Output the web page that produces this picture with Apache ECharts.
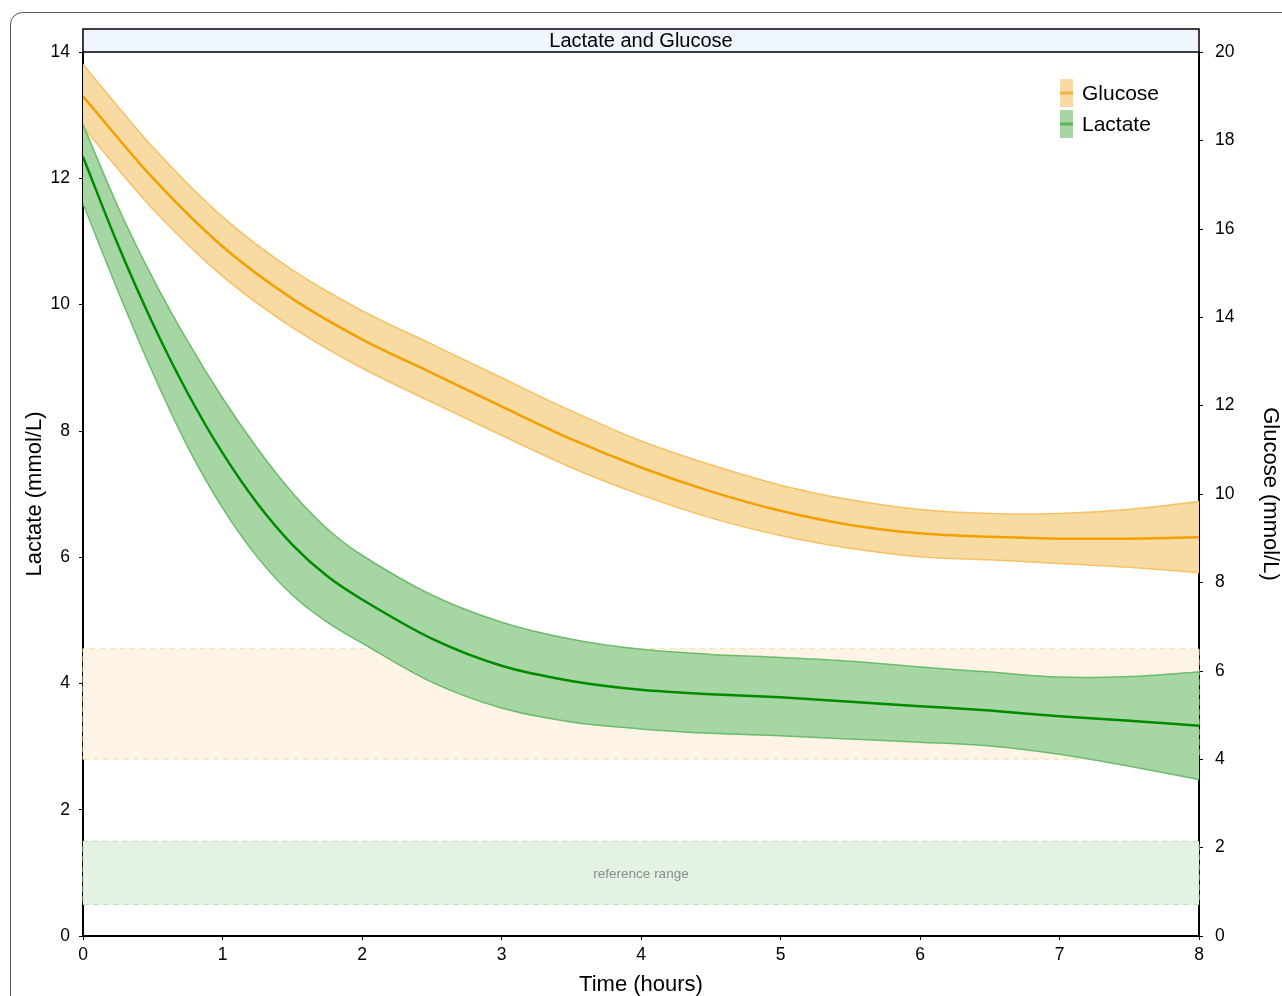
<!DOCTYPE html>
<html>
<head>
<meta charset="utf-8">
<script src="https://cdn.jsdelivr.net/npm/echarts@6/dist/echarts.min.js"></script>
<style>
html,body{margin:0;padding:0;background:#fff;overflow:hidden;}
#chart{width:1282px;height:996px;}
</style>
</head>
<body>
<div id="chart"></div>
<script>
// ---- data ----
var glucoseTime = [0,0.5,1,1.5,2,2.5,3,3.5,4,4.5,5,5.5,6,6.5,7,7.5,8];
var glucoseMean = [19.0,17.15,15.6,14.42,13.5,12.74,11.98,11.24,10.6,10.06,9.62,9.30,9.11,9.03,8.99,8.99,9.02];
var glucoseUpper = [19.72,17.85,16.27,15.07,14.15,13.39,12.63,11.88,11.2,10.66,10.20,9.87,9.65,9.56,9.56,9.65,9.83];
var glucoseLower = [18.3,16.45,14.93,13.77,12.85,12.08,11.33,10.6,9.98,9.46,9.06,8.77,8.58,8.51,8.43,8.34,8.22];

var lactateTime = [0,0.25,0.5,0.75,1,1.25,1.5,1.75,2,2.5,3,3.5,4,4.5,5,5.5,6,6.5,7,7.5,8];
var lactateMean = [12.34,10.95,9.70,8.60,7.65,6.85,6.2,5.7,5.33,4.71,4.28,4.04,3.90,3.83,3.78,3.71,3.64,3.57,3.48,3.41,3.33];
var lactateUpper = [12.85,11.55,10.42,9.42,8.52,7.72,7.02,6.45,6.03,5.4,4.97,4.70,4.54,4.46,4.41,4.35,4.26,4.18,4.10,4.11,4.18];
var lactateLower = [11.6,10.22,8.92,7.75,6.78,6.0,5.4,4.97,4.64,4.02,3.61,3.39,3.28,3.21,3.17,3.12,3.07,3.01,2.88,2.69,2.48];

var glucoseRef = [4.0, 6.5];   // mmol/L (right axis)
var lactateRef = [0.5, 1.5];   // mmol/L (left axis)
var xTicks = [0, 8, 1];
var lactateAxis = [0, 14, 2];
var glucoseAxis = [0, 20, 2];

var FONT = 'Liberation Sans, Arial, sans-serif';

// smooth cubic Hermite path segments through pixel points
function segments(pts) {
  var n = pts.length, m = [];
  for (var i = 0; i < n; i++) {
    var a = pts[Math.max(0, i - 1)], b = pts[Math.min(n - 1, i + 1)];
    m.push((b[1] - a[1]) / (b[0] - a[0]));
  }
  var segs = [];
  for (var j = 0; j < n - 1; j++) {
    var p = pts[j], q = pts[j + 1], dx = (q[0] - p[0]) / 3;
    segs.push({p: p, q: q, c1: [p[0] + dx, p[1] + m[j] * dx], c2: [q[0] - dx, q[1] - m[j + 1] * dx]});
  }
  return segs;
}
function fwd(segs) {
  var s = 'M' + segs[0].p[0] + ' ' + segs[0].p[1];
  segs.forEach(function (g) {
    s += ' C' + g.c1[0] + ' ' + g.c1[1] + ' ' + g.c2[0] + ' ' + g.c2[1] + ' ' + g.q[0] + ' ' + g.q[1];
  });
  return s;
}
function bwd(segs) {
  var last = segs[segs.length - 1];
  var s = 'L' + last.q[0] + ' ' + last.q[1];
  for (var i = segs.length - 1; i >= 0; i--) {
    var g = segs[i];
    s += ' C' + g.c2[0] + ' ' + g.c2[1] + ' ' + g.c1[0] + ' ' + g.c1[1] + ' ' + g.p[0] + ' ' + g.p[1];
  }
  return s;
}

function bandSeries(yIdx, time, upper, lower, fill, edge) {
  return {
    type: 'custom', yAxisIndex: yIdx, data: [[time[0], lower[0]]], clip: true, silent: true,
    renderItem: function (params, api) {
      var up = time.map(function (t, i) { return api.coord([t, upper[i]]); });
      var lo = time.map(function (t, i) { return api.coord([t, lower[i]]); });
      var su = segments(up), sl = segments(lo);
      return {type: 'group', children: [
        {type: 'path', shape: {pathData: fwd(su) + ' ' + bwd(sl) + ' Z'},
          style: {fill: fill, stroke: null}},
        {type: 'path', shape: {pathData: fwd(su)}, style: {fill: null, stroke: edge, lineWidth: 1.5}},
        {type: 'path', shape: {pathData: fwd(sl)}, style: {fill: null, stroke: edge, lineWidth: 1.5}}
      ]};
    }
  };
}
function meanSeries(name, yIdx, time, vals, color) {
  return {
    name: name, type: 'custom', yAxisIndex: yIdx, data: [[time[0], vals[0]]], clip: true, silent: true,
    renderItem: function (params, api) {
      var pts = time.map(function (t, i) { return api.coord([t, vals[i]]); });
      return {type: 'path', shape: {pathData: fwd(segments(pts))},
        style: {fill: null, stroke: color, lineWidth: 2.5}};
    }
  };
}

var chart = echarts.init(document.getElementById('chart'));

var axisCommon = {
  axisLine: {show: true, lineStyle: {color: '#000', width: 2}},
  axisTick: {show: true, length: 4, lineStyle: {color: '#000', width: 1}},
  splitLine: {show: false},
  axisLabel: {color: '#000', fontSize: 17.5, fontFamily: FONT},
  nameTextStyle: {color: '#000', fontSize: 22, fontFamily: FONT},
  nameMoveOverlap: false
};

var option = {
  animation: false,
  backgroundColor: '#fff',
  grid: {left: 83, right: 83, top: 52, bottom: 60, containLabel: false, outerBoundsMode: 'none'},
  xAxis: Object.assign({}, axisCommon, {
    type: 'value', min: xTicks[0], max: xTicks[1], interval: xTicks[2],
    name: 'Time (hours)', nameLocation: 'middle', nameGap: 38,
    axisLabel: Object.assign({}, axisCommon.axisLabel, {margin: 10})
  }),
  yAxis: [
    Object.assign({}, axisCommon, {
      type: 'value', min: lactateAxis[0], max: lactateAxis[1], interval: lactateAxis[2],
      position: 'left', name: 'Lactate (mmol/L)', nameLocation: 'middle', nameGap: 37,
      nameRotate: 90,
      axisLabel: Object.assign({}, axisCommon.axisLabel, {margin: 13})
    }),
    Object.assign({}, axisCommon, {
      type: 'value', min: glucoseAxis[0], max: glucoseAxis[1], interval: glucoseAxis[2],
      position: 'right', name: 'Glucose (mmol/L)', nameLocation: 'middle', nameGap: 60,
      nameRotate: -90,
      axisLabel: Object.assign({}, axisCommon.axisLabel, {margin: 16})
    })
  ],
  graphic: [
    {type: 'rect', shape: {x: 10.5, y: 12.5, width: 1320, height: 1040, r: 12},
      style: {fill: 'none', stroke: '#555', lineWidth: 1}, z: -10, silent: true},
    {type: 'rect', shape: {x: 83, y: 29, width: 1116, height: 23},
      style: {fill: '#eef5fd', stroke: '#000', lineWidth: 1.5}, z: 10},
    {type: 'text', x: 641, y: 41, style: {text: 'Lactate and Glucose', fill: '#000',
      font: '20px ' + FONT, textAlign: 'center', textVerticalAlign: 'middle'}, z: 11},
    // legend
    {type: 'rect', shape: {x: 1060, y: 79, width: 13, height: 28}, style: {fill: '#f8dba3'}, z: 20},
    {type: 'line', shape: {x1: 1060, y1: 93, x2: 1073, y2: 93}, style: {stroke: '#f3b24a', lineWidth: 3}, z: 21},
    {type: 'text', x: 1082, y: 94, style: {text: 'Glucose', fill: '#000', font: '21px ' + FONT,
      textAlign: 'left', textVerticalAlign: 'middle'}, z: 21},
    {type: 'rect', shape: {x: 1060, y: 110, width: 13, height: 28}, style: {fill: '#a6d6a4'}, z: 20},
    {type: 'line', shape: {x1: 1060, y1: 124, x2: 1073, y2: 124}, style: {stroke: '#5cb45c', lineWidth: 3}, z: 21},
    {type: 'text', x: 1082, y: 125, style: {text: 'Lactate', fill: '#000', font: '21px ' + FONT,
      textAlign: 'left', textVerticalAlign: 'middle'}, z: 21}
  ],
  series: [
    // reference ranges
    {type: 'line', yAxisIndex: 1, data: [], silent: true,
      markArea: {silent: true,
        itemStyle: {color: '#fdf4e6', borderColor: '#f9dcaa', borderWidth: 1, borderType: [6, 4]},
        data: [[{yAxis: glucoseRef[0], xAxis: xTicks[0]}, {yAxis: glucoseRef[1], xAxis: xTicks[1]}]]}},
    {type: 'line', yAxisIndex: 0, data: [], silent: true,
      markArea: {silent: true,
        itemStyle: {color: '#e3f2e3', borderColor: '#b9e2b9', borderWidth: 1, borderType: [6, 4]},
        label: {show: true, position: 'inside', formatter: 'reference range', color: '#8c8c8c',
          fontSize: 13.5, fontFamily: FONT, offset: [0, 1]},
        data: [[{yAxis: lactateRef[0], xAxis: xTicks[0]}, {yAxis: lactateRef[1], xAxis: xTicks[1]}]]}},
    bandSeries(1, glucoseTime, glucoseUpper, glucoseLower, '#f8dba3', '#f5c164'),
    bandSeries(0, lactateTime, lactateUpper, lactateLower, '#a6d6a4', '#6dbb6d'),
    meanSeries('Glucose', 1, glucoseTime, glucoseMean, '#f29f00'),
    meanSeries('Lactate', 0, lactateTime, lactateMean, '#008a00')
  ]
};
chart.setOption(option);
</script>
</body>
</html>
